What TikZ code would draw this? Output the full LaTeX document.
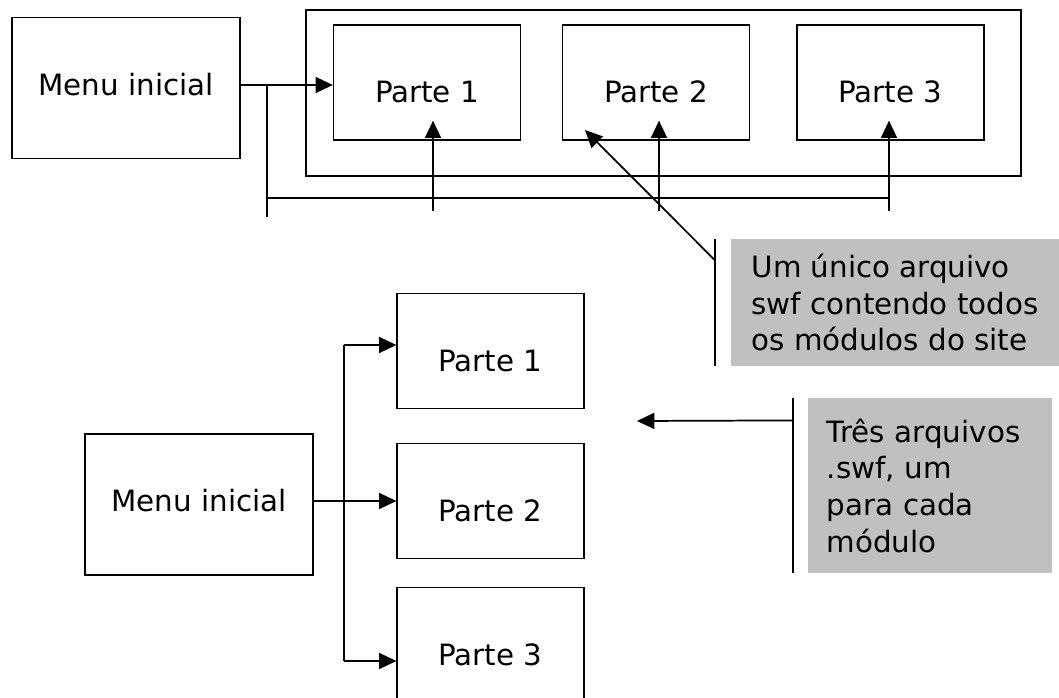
\documentclass[tikz,border=0pt]{standalone}
\usepackage{fontspec}
\setmainfont{DejaVu Sans}
\usetikzlibrary{
	arrows.meta,
}
\definecolor{notegray}{RGB}{192,192,192}
\tikzstyle{arrow} = [line width=1.3pt,-{Triangle[length=13pt,width=12pt]}]
\tikzstyle{wire} = [line width=1.3pt]
\tikzstyle{menubox} = [draw, line width=1.2pt, minimum width=171pt, minimum height=106pt, text depth=6pt]
\tikzstyle{partbox} = [draw, line width=1.2pt, minimum width=140pt, minimum height=86pt, text height=30pt, text depth=0pt]
\tikzstyle{note} = [fill=notegray, align=left, inner sep=0pt]

\begin{document}
\begin{tikzpicture}[x=0.75pt, y=-0.75pt, font=\fontsize{22pt}{27.5pt}\selectfont]
	\useasboundingbox (0,0) rectangle (1059,698);

	% one swf file holding every part
	\node[draw, line width=1.2pt, minimum width=536pt, minimum height=124.5pt] (frame) at (663.5,93) {};
	\node[menubox] (menuTop) at (126,88) {Menu inicial};
	\node[partbox] (top1) at (427,82.5) {Parte 1};
	\node[partbox] (top2) at (656,82.5) {Parte 2};
	\node[partbox] (top3) at (890.5,82.5) {Parte 3};

	\coordinate (busStart) at (267,85);
	\coordinate (busEnd) at (267,217);
	\coordinate (railL) at (267,198);
	\draw[arrow] (menuTop.east |- busStart) -- (busStart -| top1.west);
	\draw[wire] (busStart) -- (busEnd);

	\foreach \n/\x in {1/433, 2/659, 3/889} {
			\coordinate (foot\n) at (\x,211);
			\draw[arrow] (foot\n) -- ([yshift=15pt]foot\n |- top\n.south);
		}
	\draw[wire] (railL) -- (railL -| foot3);

	% three swf files, one for each part
	\node[menubox] (menuLow) at (199,504.5) {Menu inicial};
	\node[partbox] (low1) at (490.5,351) {Parte 1};
	\node[partbox] (low2) at (490.5,501) {Parte 2};
	\node[partbox] (low3) at (490.5,645) {Parte 3};

	\coordinate (forkTop) at (344,345);
	\coordinate (forkBot) at (344,661);
	\draw[arrow] (menuLow.east |- low2.west) -- (low2.west);
	\draw[wire] (forkTop) -- (forkBot);
	\draw[arrow] (forkTop) -- (forkTop -| low1.west);
	\draw[arrow] (forkBot) -- (forkBot -| low3.west);

	% callouts
	\node[note, minimum width=246pt, minimum height=95.25pt] (noteOne) at (895,302.5)
		{Um único arquivo\\swf contendo todos\\os módulos do site};
	\node[note, inner xsep=14pt, text width=155pt, minimum height=131.25pt] (noteTwo) at (930,485.5)
		{Três arquivos\\.swf, um\\para cada\\módulo};

	\coordinate (tipOne) at (585,130);
	\coordinate (tipTwo) at (637,421);
	\draw[wire] ([xshift=-12pt]noteOne.north west) -- ([xshift=-12pt]noteOne.south west);
	\draw[arrow] ([xshift=-12pt,yshift=-16pt]noteOne.north west) -- (tipOne);
	\draw[wire] ([xshift=-11pt]noteTwo.north west) -- ([xshift=-11pt]noteTwo.south west);
	\draw[arrow] ([xshift=-11pt,yshift=-17pt]noteTwo.north west) -- (tipTwo);

\end{tikzpicture}
\end{document}
